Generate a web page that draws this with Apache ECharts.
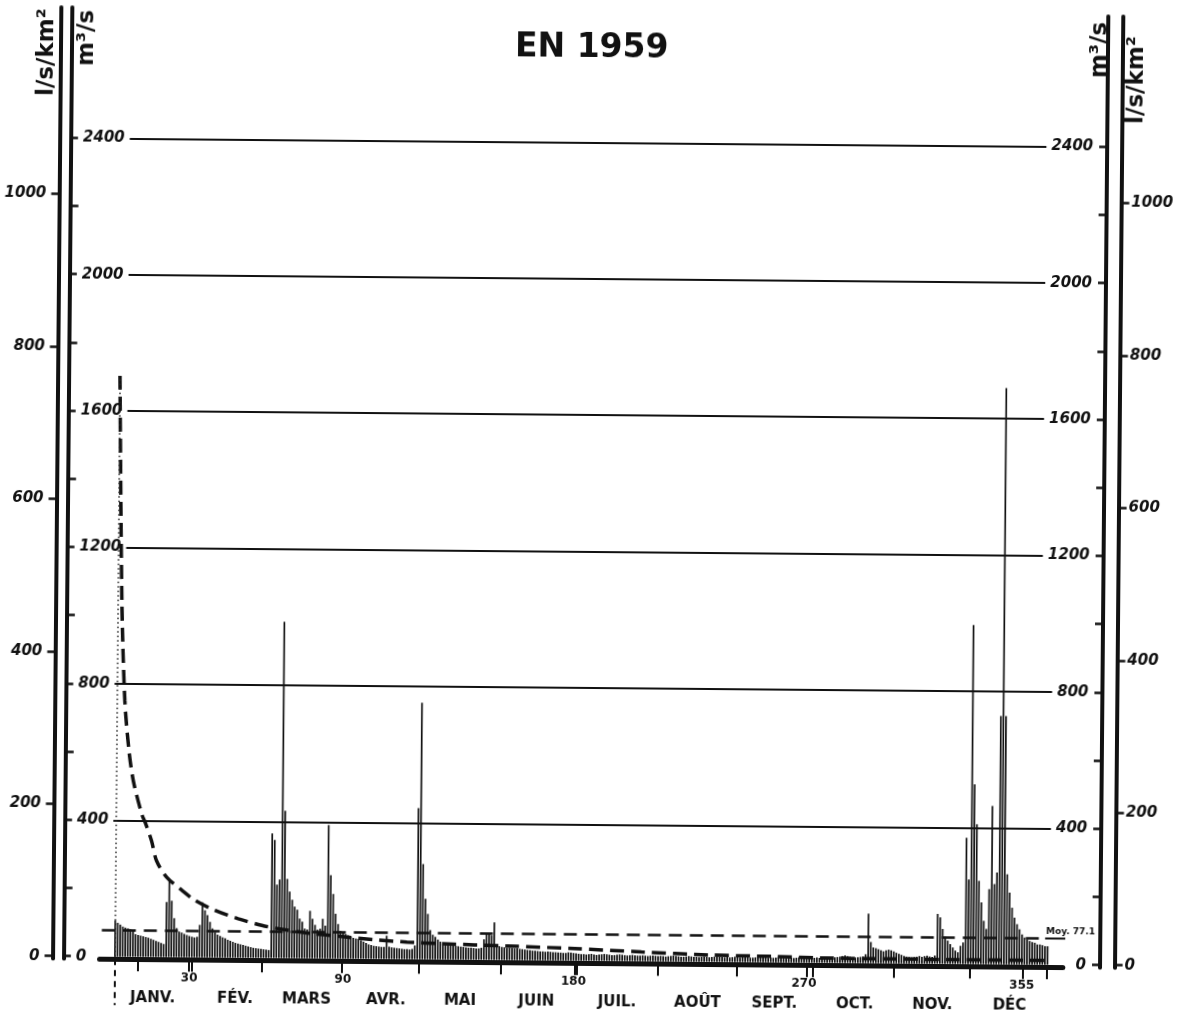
<!DOCTYPE html>
<html>
<head>
<meta charset="utf-8">
<title>EN 1959</title>
<script src="https://cdn.jsdelivr.net/npm/echarts@6/dist/echarts.min.js"></script>
<style>
  html, body { margin: 0; padding: 0; background: #fff; overflow: hidden; }
  /* the scanned sheet is turned a little clockwise */
  #chart { width: 1189px; height: 1017px; transform: rotate(0.5deg); }
</style>
</head>
<body>
<div id="chart"></div>
<script>
// daily mean discharge, m3/s, one array per month
const jan = [106, 99, 94, 88, 85, 83, 80, 76, 66, 64, 62, 60, 58, 56, 53, 50, 47, 44, 41, 38, 161, 222, 165, 114, 85, 75, 72, 68, 65, 62, 60];
const feb = [58, 60, 95, 161, 138, 124, 104, 85, 74, 67, 63, 59, 56, 52, 49, 46, 43, 41, 39, 37, 35, 33, 31, 29, 28, 27, 26, 25];
const mar = [24, 23, 365, 346, 215, 230, 986, 432, 232, 195, 171, 151, 142, 116, 107, 87, 84, 139, 116, 98, 84, 87, 116, 96, 391, 244, 189, 131, 101, 81, 76];
const apr = [72, 68, 64, 61, 59, 58, 54, 50, 46, 42, 40, 38, 37, 36, 35, 35, 68, 36, 34, 33, 32, 31, 30, 29, 29, 28, 30, 40, 443, 752];
const may = [279, 177, 133, 86, 72, 66, 58, 52, 48, 46, 44, 43, 42, 40, 39, 38, 37, 36, 35, 35, 34, 33, 33, 35, 60, 78, 76, 72, 110, 45, 40];
const jun = [38, 37, 36, 36, 35, 34, 34, 33, 32, 31, 30, 29, 28, 28, 27, 26, 26, 25, 26, 25, 24, 24, 23, 23, 22, 22, 24, 23, 22, 21];
const jul = [20, 19, 19, 18, 19, 20, 18, 17, 18, 19, 20, 19, 18, 17, 17, 18, 19, 18, 17, 16, 17, 18, 17, 16, 16, 17, 16, 15, 16, 17, 16];
const aug = [15, 16, 15, 14, 15, 16, 17, 16, 15, 14, 14, 15, 16, 15, 14, 14, 13, 14, 15, 14, 13, 14, 15, 16, 15, 14, 13, 14, 13, 14, 15];
const sep = [14, 13, 14, 15, 14, 13, 13, 14, 15, 16, 15, 14, 13, 14, 13, 14, 15, 14, 13, 12, 13, 14, 13, 14, 15, 14, 13, 14, 13, 14];
const oct = [14, 15, 14, 15, 16, 15, 14, 15, 16, 17, 18, 20, 22, 20, 18, 17, 16, 17, 18, 19, 26, 145, 62, 46, 44, 41, 38, 35, 38, 40, 38];
const nov = [35, 31, 28, 25, 22, 20, 19, 18, 19, 20, 22, 20, 22, 23, 21, 20, 24, 146, 136, 102, 79, 68, 58, 48, 39, 34, 53, 63, 370, 248];
const dec = [994, 527, 410, 244, 181, 127, 103, 220, 464, 235, 269, 728, 1690, 728, 264, 210, 166, 137, 118, 103, 88, 79, 74, 69, 66, 64, 59, 59, 57, 54, 54];

const meanFlow = 77.1;

// duration curve (dashed)
const durDays = [1, 2.5, 4, 5.8, 7.6, 11, 12.4, 14.9, 16.9, 20.9, 26.9, 32, 39.9, 49, 58.2, 64.7, 75.8, 88.7, 101.9, 114.9, 128.2, 154.3, 180.4, 206.5, 232.5, 258.6, 276.8, 300, 330, 365];
const durFlow = [1703, 1043, 750, 603, 515, 418, 393, 340, 282, 234, 196, 167, 138, 114, 95, 86, 74, 65, 56, 50, 46, 41, 35, 27, 20, 17, 14, 13, 12.5, 12];

// axes
const gridLevels = [400, 800, 1200, 1600, 2000, 2400];
const m3Ticks = [0, 200, 400, 600, 800, 1000, 1200, 1400, 1600, 1800, 2000, 2200, 2400];
const m3Labels = [0, 400, 800, 1200, 1600, 2000, 2400];
const specTicks = [0, 200, 400, 600, 800, 1000];
const dayTicks = [10, 30, 31, 58.5, 89.5, 119.5, 151.5, 180.5, 181.2, 213, 243.7, 271, 273.5, 305, 334.7, 355.3, 364.8];
const dayLabels = [30, 90, 180, 270, 355];
const months = ['JANV.', 'FÉV.', 'MARS', 'AVR.', 'MAI', 'JUIN', 'JUIL.', 'AOÛT', 'SEPT.', 'OCT.', 'NOV.', 'DÉC'];
const monthCenters = [15.8, 48, 75.9, 106.9, 135.8, 165.6, 197.1, 228.5, 258.5, 289.9, 320.2, 350.3];

const KM2 = 2.235;          // m3/s for 1 l/s/km2
const Y_MIN = -7.3, Y_MAX = 2782;
const X_MIN = -5, X_MAX = 371;

const flow = [].concat(jan, feb, mar, apr, may, jun, jul, aug, sep, oct, nov, dec);
const ink = '#111';
const numFont = { fontFamily: 'DejaVu Sans', fontWeight: 'bold', fontStyle: 'italic', fontSize: 15, color: ink };
const plain = function (v) { return String(v); };

function yAx(pos, offset, scale, ticks, labels, inside, margin, knockout) {
  return {
    type: 'value', position: pos, offset: offset, min: Y_MIN / scale, max: Y_MAX / scale, z: 1,
    axisLine: { show: true, onZero: false, lineStyle: { color: ink, width: 4 } },
    axisTick: { show: true, inside: inside, length: 8, customValues: ticks, lineStyle: { color: ink, width: 2.5 } },
    axisLabel: Object.assign({ show: true, inside: inside, margin: margin, customValues: labels, formatter: plain },
      numFont, knockout ? { backgroundColor: '#fff', padding: [1, 5] } : {}),
    splitLine: { show: false }
  };
}

function xAx(extra) {
  return Object.assign({
    type: 'value', position: 'bottom', min: X_MIN, max: X_MAX, z: 1,
    axisLine: { show: false, onZero: false },
    splitLine: { show: false }
  }, extra);
}

function axisName(id, text, x, y) {
  return {
    id: id, type: 'text', x: x, y: y, rotation: Math.PI / 2,
    style: { text: text, font: 'bold 23px "DejaVu Sans"', fill: ink, align: 'center', verticalAlign: 'middle' }
  };
}

const chart = echarts.init(document.getElementById('chart'));
chart.setOption({
  animation: false,
  backgroundColor: '#fff',
  textStyle: { fontFamily: 'DejaVu Sans', color: ink },
  title: {
    text: 'EN 1959', left: 506, top: 27,
    textStyle: { fontFamily: 'DejaVu Sans', fontWeight: 'bold', fontSize: 33, color: ink }
  },
  grid: { left: 103.5, right: 122.2, top: 12, bottom: 53.8, outerBoundsMode: 'none', containLabel: false },
  xAxis: [
    xAx({
      axisLine: { show: true, onZero: false, lineStyle: { color: ink, width: 5 } },
      axisTick: { show: true, customValues: dayTicks, length: 12, lineStyle: { color: ink, width: 2 } },
      axisLabel: { show: true, customValues: dayLabels, formatter: plain, margin: 13, fontSize: 12, fontWeight: 'bold', color: ink }
    }),
    xAx({
      axisTick: { show: false },
      axisLabel: {
        show: true, customValues: monthCenters, margin: 31, fontSize: 15, fontWeight: 'bold', color: ink,
        formatter: function (v) {
          let best = 0;
          monthCenters.forEach(function (c, i) { if (Math.abs(c - v) < Math.abs(monthCenters[best] - v)) best = i; });
          return months[best];
        }
      }
    }),
    xAx({
      axisTick: { show: true, customValues: [1], length: 46, lineStyle: { color: ink, width: 2, type: [6, 5] } },
      axisLabel: { show: false }
    })
  ],
  yAxis: [
    yAx('left', 35.7, 1, m3Ticks, m3Labels, true, 7, true),
    yAx('left', 47, KM2, specTicks, specTicks, false, 13, false),
    yAx('right', 37.2, 1, m3Ticks, m3Labels, true, 9, true),
    yAx('right', 51.8, KM2, specTicks, specTicks, false, 10, false)
  ],
  graphic: {
    elements: [
      axisName('nameL1', 'l/s/km²', 43, 57),
      axisName('nameL2', 'm³/s', 83.4, 42.4),
      axisName('nameR1', 'm³/s', 1096, 45.6),
      axisName('nameR2', 'l/s/km²', 1133.3, 75.3)
    ]
  },
  series: [
    {
      name: 'débit journalier', type: 'bar', xAxisIndex: 0, yAxisIndex: 0,
      data: flow.map(function (v, i) { return [i + 1, v]; }),
      barWidth: 1.7, itemStyle: { color: ink }, z: 2,
      markLine: {
        z: 0, silent: true, symbol: 'none', label: { show: false },
        lineStyle: { color: ink, width: 2, type: 'solid' },
        data: gridLevels.map(function (v) { return { yAxis: v }; })
      }
    },
    {
      name: 'courbe des débits classés', type: 'line', xAxisIndex: 0, yAxisIndex: 0,
      data: durDays.map(function (d, i) { return [d, durFlow[i]]; }),
      smooth: 0.3, showSymbol: false, z: 3,
      lineStyle: { color: ink, width: 3.5, type: [14, 7] },
      markLine: {
        silent: true, symbol: 'none', label: { show: false },
        lineStyle: { color: '#222', width: 1.5, type: [1.5, 3] },
        data: [[{ coord: [durDays[0], 0] }, { coord: [durDays[0], durFlow[0]] }]]
      }
    },
    {
      name: 'moyenne', type: 'line', xAxisIndex: 0, yAxisIndex: 0,
      data: [[-4.2, meanFlow], [364, meanFlow]],
      showSymbol: false, z: 3,
      lineStyle: { color: ink, width: 2.5, type: [13, 8] }
    },
    {
      name: 'moyenne (trait)', type: 'line', xAxisIndex: 0, yAxisIndex: 0,
      data: [[364, meanFlow], [385.4, meanFlow]],
      showSymbol: false, clip: false, z: 3,
      lineStyle: { color: ink, width: 2 }
    }
  ]
});

// "Moy." label sits on the solid tail of the mean line
const tail = chart.convertToPixel({ xAxisIndex: 0, yAxisIndex: 0 }, [364, meanFlow]);
chart.setOption({
  graphic: {
    elements: [{
      id: 'moy', type: 'text', x: tail[0] + 1, y: tail[1] - 2,
      style: { text: 'Moy. ' + meanFlow, font: 'bold 9px "DejaVu Sans"', fill: ink, align: 'left', verticalAlign: 'bottom' }
    }]
  }
});
</script>
</body>
</html>
